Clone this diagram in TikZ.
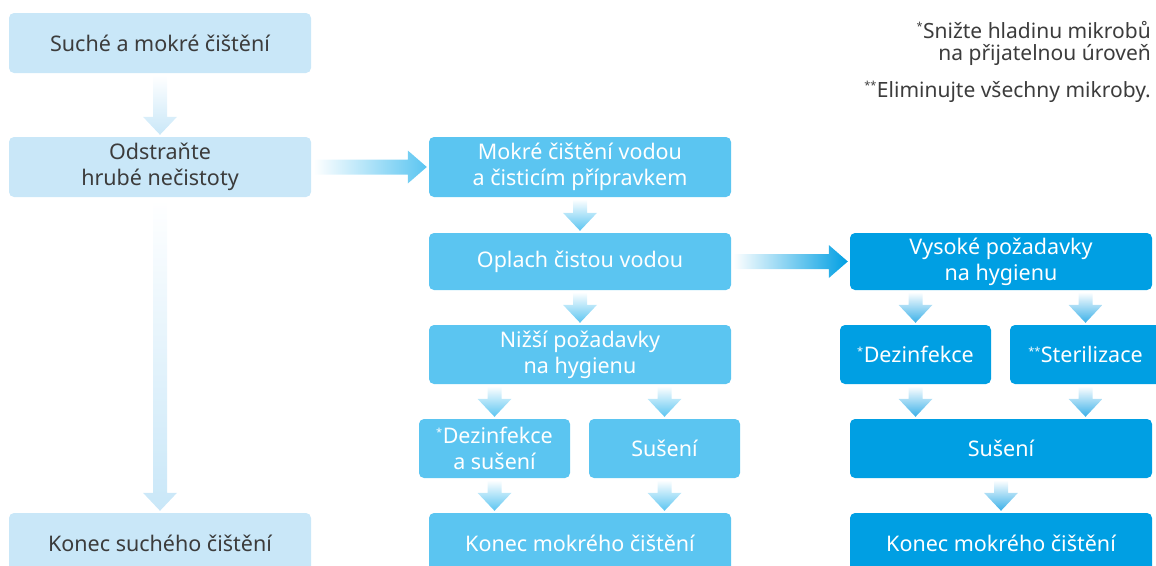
\documentclass[tikz,border=0pt]{standalone}
\usepackage{fontspec}
\setmainfont{Noto Sans}
\usetikzlibrary{calc}
\definecolor{lightbox}{HTML}{C9E7F8}
\definecolor{midbox}{HTML}{5BC5F1}
\definecolor{darkbox}{HTML}{009FE3}
\definecolor{txtgray}{HTML}{3C3C3C}
\definecolor{midarrow}{HTML}{5BC5F1}
\definecolor{darkarrow}{HTML}{3AB0E8}
\tikzset{
  box/.style={rectangle, rounded corners=5pt, minimum width=302pt, minimum height=60pt,
    align=center, inner sep=0pt, font=\fontsize{21.5}{26}\selectfont},
  halfbox/.style={box, minimum width=151pt},
  light/.style={fill=lightbox, text=txtgray},
  mid/.style={fill=midbox, text=white},
  dark/.style={fill=darkbox, text=white},
  note/.style={anchor=north east, align=right, text=txtgray, inner sep=0pt,
    font=\fontsize{21}{22}\selectfont}
}
\newcommand\st{\textsuperscript{\fontsize{11}{11}\selectfont *}}
\newcommand\sst{\textsuperscript{\fontsize{11}{11}\selectfont **}}
\newcommand\vflow[3]{%
  \shade[top color=white, bottom color=#1] let \p1=#2, \p2=#3 in
  (\x1-7pt,\y1-2pt) -- (\x1+7pt,\y1-2pt) -- (\x1+7pt,\y2+20pt) -- (\x1+17pt,\y2+20pt)
  -- (\x1,\y2+2pt) -- (\x1-17pt,\y2+20pt) -- (\x1-7pt,\y2+20pt) -- cycle;}
\newcommand\hflow[3]{%
  \shade[left color=white, right color=#1] let \p1=#2, \p2=#3 in
  (\x1+2pt,\y1+7.5pt) -- (\x2-21pt,\y1+7.5pt) -- (\x2-21pt,\y1+16.5pt) -- (\x2-2pt,\y1)
  -- (\x2-21pt,\y1-16.5pt) -- (\x2-21pt,\y1-7.5pt) -- (\x1+2pt,\y1-7.5pt) -- cycle;}
\begin{document}
\begin{tikzpicture}[x=1pt,y=-1pt]
\useasboundingbox (0,0) rectangle (1156,565);
\clip (0,0) rectangle (1156,565);
% left column
\node[box,light] (L1) at (160,43) {Suché a mokré čištění};
\node[box,light] (L2) at (160,167) {Odstraňte\\hrubé nečistoty};
\node[box,light] (L3) at (160,543) {Konec suchého čištění};
% middle column
\node[box,mid] (M1) at (580,167) {Mokré čištění vodou\\a čisticím přípravkem};
\node[box,mid,minimum height=57pt] (M2) at (580,261.5) {Oplach čistou vodou};
\node[box,mid,minimum height=59pt] (M3) at (580,354.5) {Nižší požadavky\\na hygienu};
\node[halfbox,mid,minimum height=59pt] (M4) at (494.5,448.5) {\st Dezinfekce\\a sušení};
\node[halfbox,mid,minimum height=59pt] (M5) at (664.5,448.5) {Sušení};
\node[box,mid] (M6) at (580,543) {Konec mokrého čištění};
% right column
\node[box,dark,minimum height=57pt] (R1) at (1001,261.5) {Vysoké požadavky\\na hygienu};
\node[halfbox,dark,minimum height=59pt] (R2) at (915.5,354.5) {\st Dezinfekce};
\node[halfbox,dark,minimum height=59pt] (R3) at (1085.5,354.5) {\sst Sterilizace};
\node[box,dark,minimum height=59pt] (R4) at (1001,448.5) {Sušení};
\node[box,dark] (R5) at (1001,543) {Konec mokrého čištění};
% notes
\node[note] (n1) at (1151,21) {\st Snižte hladinu mikrobů\\na přijatelnou úroveň};
\node[note] (n2) at (1151,81) {\sst Eliminujte všechny mikroby.};
% arrows
\vflow{lightbox}{(L1.south)}{(L2.north)}
\vflow{lightbox}{(L2.south)}{(L3.north)}
\hflow{midarrow}{(L2.east)}{(M1.west)}
\vflow{midarrow}{(M1.south)}{(M2.north)}
\vflow{midarrow}{(M2.south)}{(M3.north)}
\vflow{midarrow}{(M4.north |- M3.south)}{(M4.north)}
\vflow{midarrow}{(M5.north |- M3.south)}{(M5.north)}
\vflow{midarrow}{(M4.south)}{(M4.south |- M6.north)}
\vflow{midarrow}{(M5.south)}{(M5.south |- M6.north)}
\hflow{darkbox}{(M2.east)}{(R1.west)}
\vflow{darkarrow}{(R2.north |- R1.south)}{(R2.north)}
\vflow{darkarrow}{(R3.north |- R1.south)}{(R3.north)}
\vflow{darkarrow}{(R2.south)}{(R2.south |- R4.north)}
\vflow{darkarrow}{(R3.south)}{(R3.south |- R4.north)}
\vflow{darkarrow}{(R4.south)}{(R5.north)}
\end{tikzpicture}
\end{document}
